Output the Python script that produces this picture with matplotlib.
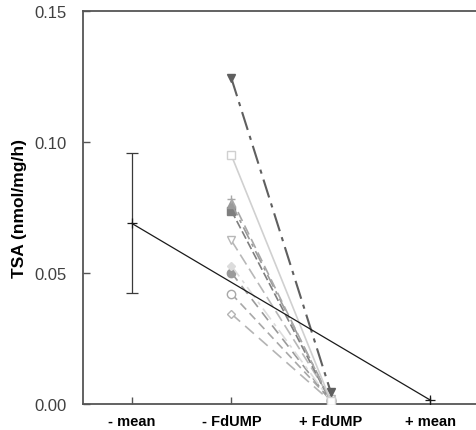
#!/usr/bin/env python
"""
TSA activity before and after FdUMP, paired per sample, with group means
"""

import matplotlib.pyplot as plt

plt.rcParams["font.family"] = ["Liberation Sans", "DejaVu Sans"]

categories = ["- mean", "- FdUMP", "+ FdUMP", "+ mean"]

# paired sample values (nmol/mg/h): without and with FdUMP
minus_fdump = [0.1243, 0.0949, 0.0784, 0.0765, 0.0738, 0.0624, 0.0528, 0.0501, 0.0421, 0.0344]
plus_fdump = [0.0045, 0.0012, 0.0010, 0.0015, 0.0008, 0.0020, 0.0012, 0.0010, 0.0015, 0.0010]
markers = ["v", "s", "+", "^", "s", "v", "D", "o", "o", "D"]
filled = [True, False, True, True, True, False, True, True, False, False]
colours = ["#5f5f5f", "#d0d0d0", "#a8a8a8", "#9a9a9a", "#7e7e7e",
           "#b8b8b8", "#dcdcdc", "#9a9a9a", "#a8a8a8", "#b4b4b4"]
styles = [(0, (9, 3, 2, 3)), "-", (0, (6, 3)), (0, (8, 3, 2, 3)), (0, (5, 2)),
          (0, (7, 3)), (0, (8, 3, 2, 3)), (0, (6, 4)), (0, (5, 3)), (0, (7, 4))]

mean_values = [0.0689, 0.0015]
mean_err = 0.0267


def main():
    """
    Driver code
    """
    fig = plt.figure(figsize=(4.77, 4.31), dpi=100)
    ax = fig.add_axes([0.174, 0.0603, 0.826, 0.912])

    # individual samples, drawn back to front so the dark one stays on top
    for i in range(len(minus_fdump) - 1, -1, -1):
        fc = colours[i] if filled[i] else "white"
        ax.plot(
            [2, 3],
            [minus_fdump[i], plus_fdump[i]],
            color=colours[i],
            ls=styles[i],
            lw=1.2 if i else 1.5,
            marker=markers[i],
            ms=6 if markers[i] != "D" else 4.5,
            mfc=fc,
            mec=colours[i],
            mew=1.0,
            zorder=3 if i else 4,
        )

    ax.errorbar(
        [1],
        [mean_values[0]],
        yerr=mean_err,
        color="#3a3a3a",
        lw=0.9,
        capsize=4,
        capthick=0.9,
        ls="None",
    )
    ax.plot([1, 4], mean_values, color="#1a1a1a", lw=0.9, marker="+", ms=7, mew=0.9, zorder=5)

    ax.set_xlim(0.508, 4.47)
    ax.set_ylim(0, 0.15)
    ax.set_xticks([1, 2, 3, 4])
    ax.set_xticklabels(categories, fontsize=10.5, fontweight="bold")
    ax.set_yticks([0, 0.05, 0.10, 0.15])
    ax.set_yticklabels(["0.00", "0.05", "0.10", "0.15"], fontsize=12, color="#404040")
    ax.tick_params(direction="in", length=5, width=1, color="#555555")
    ax.tick_params(axis="y", pad=12)
    ax.tick_params(axis="x", pad=7)
    ax.set_ylabel("TSA (nmol/mg/h)", fontsize=12.5, fontweight="bold", labelpad=5)
    ax.spines["right"].set_visible(False)
    for side in ["left", "top", "bottom"]:
        ax.spines[side].set_color("#555555")
        ax.spines[side].set_linewidth(1.3)

    fig.savefig("out.png", dpi=100)


if __name__ == "__main__":
    main()
